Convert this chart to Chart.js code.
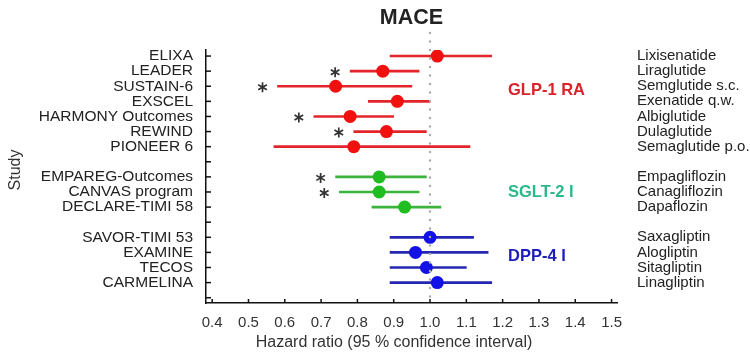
<!DOCTYPE html>
<html>
<head>
<meta charset="utf-8">
<script src="https://cdn.jsdelivr.net/npm/chart.js@4/dist/chart.umd.min.js"></script>
<style>
  html, body { margin: 0; padding: 0; background: #ffffff; }
  canvas { display: block; }
</style>
</head>
<body>
<canvas id="c" width="750" height="364"></canvas>
<script>
// ---------------- DATA ----------------
const studies = ['ELIXA','LEADER','SUSTAIN-6','EXSCEL','HARMONY Outcomes','REWIND','PIONEER 6','',
  'EMPAREG-Outcomes','CANVAS program','DECLARE-TIMI 58','',
  'SAVOR-TIMI 53','EXAMINE','TECOS','CARMELINA',''];
const drugs = ['Lixisenatide','Liraglutide','Semglutide s.c.','Exenatide q.w.','Albiglutide','Dulaglutide','Semaglutide p.o.','',
  'Empagliflozin','Canagliflozin','Dapaflozin','',
  'Saxagliptin','Alogliptin','Sitagliptin','Linagliptin',''];
const hazardRatio = [1.02,0.87,0.74,0.91,0.78,0.88,0.79,null,0.86,0.86,0.93,null,1.00,0.96,0.99,1.02,null];
const ciLower     = [0.89,0.78,0.58,0.83,0.68,0.79,0.57,null,0.74,0.75,0.84,null,0.89,0.89,0.89,0.89,null];
const ciUpper     = [1.17,0.97,0.95,1.00,0.90,0.99,1.11,null,0.99,0.97,1.03,null,1.12,1.16,1.10,1.17,null];
const drugClass   = ['GLP-1 RA','GLP-1 RA','GLP-1 RA','GLP-1 RA','GLP-1 RA','GLP-1 RA','GLP-1 RA',null,
  'SGLT-2 I','SGLT-2 I','SGLT-2 I',null,'DPP-4 I','DPP-4 I','DPP-4 I','DPP-4 I',null];
const significant = [false,true,true,false,true,true,false,false,true,true,false,false,false,false,false,false,false];
const classNames  = ['GLP-1 RA','SGLT-2 I','DPP-4 I'];
const xTicks      = [0.4,0.5,0.6,0.7,0.8,0.9,1.0,1.1,1.2,1.3,1.4,1.5];
const referenceHR = 1.0;
const chartTitle  = 'MACE';
const xTitle      = 'Hazard ratio (95 % confidence interval)';
const yTitle      = 'Study';

// ---------------- STYLE ----------------
const classStyle = {
  'GLP-1 RA': { point: '#f01010', line: '#e3242b', label: '#d8232a', anchorRow: 2.25 },
  'SGLT-2 I': { point: '#1fbd1f', line: '#3cb43c', label: '#2cb88a', anchorRow: 9.0 },
  'DPP-4 I':  { point: '#1212e6', line: '#2626b4', label: '#1c1cbc', anchorRow: 13.3 }
};
const FONT = '"Liberation Sans", Arial, sans-serif';
const rows = studies.map((s, i) => i).filter(i => hazardRatio[i] !== null);

const ciData = rows.map(i => ({ x: [ciLower[i], ciUpper[i]], y: i }));
const ptData = rows.map(i => ({ x: hazardRatio[i], y: i }));

function drawAsterisk(ctx, cx, cy, r) {
  ctx.beginPath();
  for (let k = 0; k < 3; k++) {
    const a = Math.PI / 2 + k * Math.PI / 3;
    ctx.moveTo(cx + r * Math.cos(a), cy + r * Math.sin(a));
    ctx.lineTo(cx - r * Math.cos(a), cy - r * Math.sin(a));
  }
  ctx.stroke();
}

const decorPlugin = {
  id: 'decor',
  afterDatasetsDraw(chart) {
    const ctx = chart.ctx, xs = chart.scales.x, ca = chart.chartArea;
    ctx.save();
    const xr = xs.getPixelForValue(referenceHR);
    ctx.strokeStyle = '#aaaaaa';
    ctx.lineWidth = 2.4;
    ctx.lineCap = 'round';
    ctx.setLineDash([0, 8.5]);
    ctx.beginPath();
    ctx.moveTo(xr, 33);
    ctx.lineTo(xr, ca.bottom - 3);
    ctx.stroke();
    ctx.restore();
  },
  afterDraw(chart) {
    const ctx = chart.ctx, xs = chart.scales.x, ys = chart.scales.y, ca = chart.chartArea;
    ctx.save();
    // inward ticks
    ctx.strokeStyle = '#111';
    ctx.lineWidth = 1.5;
    ys.ticks.forEach((t, k) => {
      const y = ys.getPixelForTick(k);
      ctx.beginPath(); ctx.moveTo(ca.left, y); ctx.lineTo(ca.left + 5, y); ctx.stroke();
    });
    xs.ticks.forEach((t, k) => {
      const x = xs.getPixelForTick(k);
      ctx.beginPath(); ctx.moveTo(x, ca.bottom); ctx.lineTo(x, ca.bottom - 4); ctx.stroke();
    });
    // title
    ctx.fillStyle = '#222';
    ctx.font = 'bold 21.5px ' + FONT;
    ctx.textAlign = 'center';
    ctx.textBaseline = 'middle';
    ctx.fillText(chartTitle, (ca.left + ca.right) / 2, 18);
    // x title
    ctx.font = '16px ' + FONT;
    ctx.fillStyle = '#333';
    ctx.fillText(xTitle, 394, 343);
    // y title
    ctx.save();
    ctx.translate(16, 170);
    ctx.rotate(-Math.PI / 2);
    ctx.fillText(yTitle, 0, 0);
    ctx.restore();
    // drug names on right
    ctx.font = '15px ' + FONT;
    ctx.textAlign = 'left';
    ctx.fillStyle = '#222';
    drugs.forEach((d, i) => {
      if (!d) return;
      ctx.fillText(d, 637, ys.getPixelForValue(i));
    });
    // class labels
    ctx.font = 'bold 16.5px ' + FONT;
    classNames.forEach(c => {
      ctx.fillStyle = classStyle[c].label;
      ctx.fillText(c, 508, ys.getPixelForValue(classStyle[c].anchorRow));
    });
    // significance asterisks
    ctx.strokeStyle = '#333';
    ctx.lineWidth = 1.7;
    ctx.lineCap = 'butt';
    rows.forEach(i => {
      if (!significant[i]) return;
      drawAsterisk(ctx, xs.getPixelForValue(ciLower[i]) - 15, ys.getPixelForValue(i) + 1, 5);
    });
    ctx.restore();
  }
};

new Chart(document.getElementById('c'), {
  type: 'bar',
  data: {
    datasets: [
      {
        type: 'scatter',
        label: 'HR',
        data: ptData,
        xAxisID: 'x', yAxisID: 'y',
        pointRadius: 6.5,
        pointHoverRadius: 6.5,
        pointBorderWidth: 0,
        pointBackgroundColor: rows.map(i => classStyle[drugClass[i]].point),
        pointBorderColor: rows.map(i => classStyle[drugClass[i]].point),
        order: 0
      },
      {
        type: 'bar',
        label: 'CI',
        indexAxis: 'y',
        data: ciData,
        xAxisID: 'x', yAxisID: 'y',
        barThickness: 2,
        grouped: false,
        backgroundColor: rows.map(i => classStyle[drugClass[i]].line),
        borderWidth: 0,
        order: 1
      }
    ]
  },
  options: {
    responsive: false,
    animation: false,
    layout: { padding: { top: 50, right: 133, left: 0, bottom: 0 } },
    plugins: { legend: { display: false }, title: { display: false }, tooltip: { enabled: false } },
    scales: {
      x: {
        type: 'linear',
        offset: false,
        min: 0.383, max: 1.515,
        afterBuildTicks: s => { s.ticks = xTicks.map(v => ({ value: v })); },
        afterFit: s => { s.height = 61; },
        grid: { display: false, drawTicks: false, offset: false },
        border: { display: true, color: '#111', width: 1.5 },
        ticks: { font: { size: 15, family: FONT }, color: '#333', padding: 11,
                 callback: v => v.toFixed(1), autoSkip: false, maxRotation: 0 }
      },
      y: {
        type: 'linear',
        offset: false,
        reverse: true,
        min: -0.4, max: 16.35,
        afterBuildTicks: s => { s.ticks = studies.map((n, i) => ({ value: i })); },
        afterFit: s => { s.width = 206; },
        grid: { display: false, drawTicks: false, offset: false },
        border: { display: true, color: '#111', width: 1.5 },
        ticks: { font: { size: 15.5, family: FONT }, color: '#222', padding: 13,
                 callback: v => studies[v] || '', autoSkip: false }
      }
    }
  },
  plugins: [decorPlugin]
});
</script>
</body>
</html>
